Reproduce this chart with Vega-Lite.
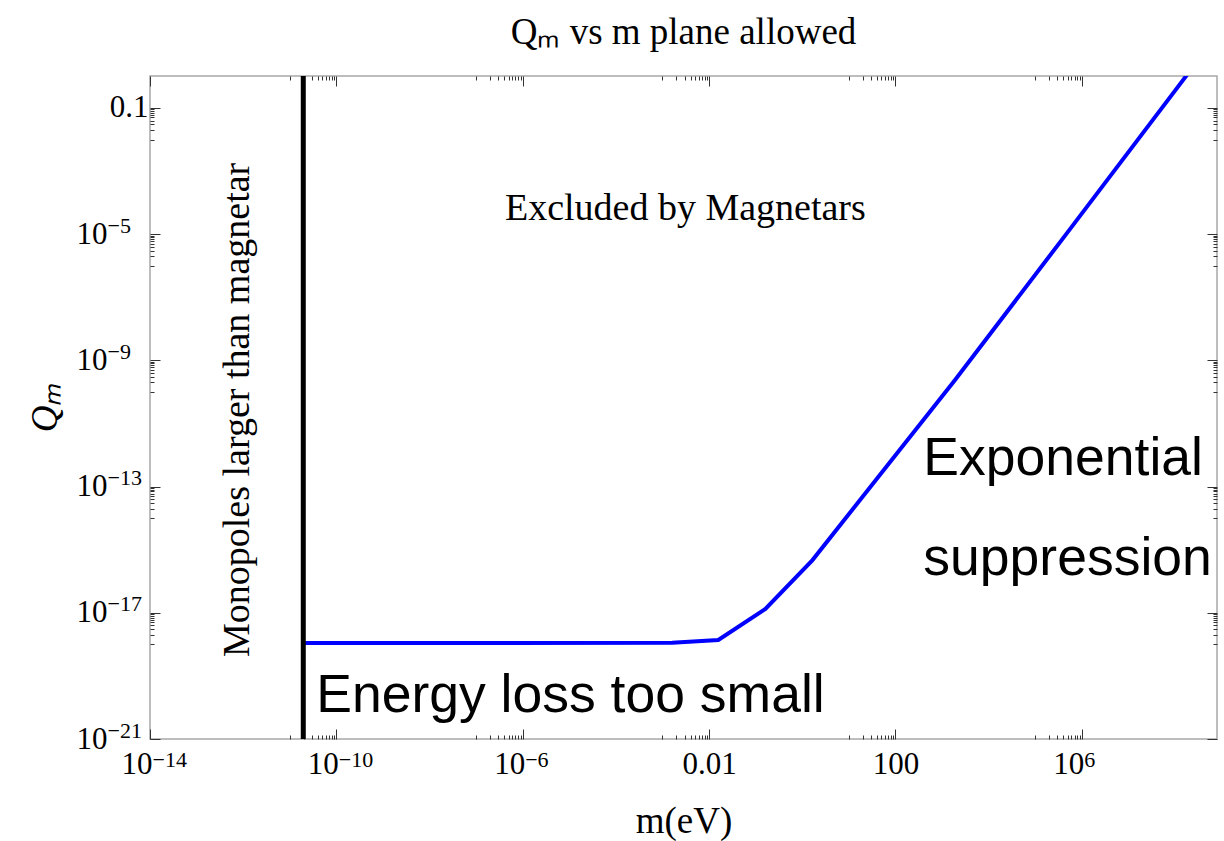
{
  "$schema": "https://vega.github.io/schema/vega-lite/v6.json",
  "width": 1067,
  "height": 663,
  "autosize": {"type": "none"},
  "padding": {"left": 150, "top": 76, "right": 7, "bottom": 102},
  "background": "white",
  "title": {"text": "Qₘ vs m plane allowed", "font": "Liberation Serif", "fontSize": 37, "fontWeight": "normal", "color": "black", "offset": 22, "anchor": "middle"},
  "config": {
    "view": {"stroke": "#a8a8a8", "strokeWidth": 1.5},
    "axis": {"domain": false, "grid": false, "tickColor": "#333", "tickWidth": 1, "labelFont": "Liberation Serif", "labelFontSize": 31, "labelColor": "black", "labelOverlap": false, "labelFlush": false, "labelBound": false, "titleFont": "Liberation Serif", "titleFontSize": 37, "titleFontWeight": "normal", "titleColor": "black"}
  },
  "datasets": {
    "curve": [
      {"m": 1.95e-11, "q": 1.1e-18},
      {"m": 1.62e-3, "q": 1.12e-18},
      {"m": 0.0158, "q": 1.38e-18},
      {"m": 0.162, "q": 1.32e-17},
      {"m": 1.66, "q": 4.68e-16},
      {"m": 1905, "q": 2.4e-10},
      {"m": 468000, "q": 1.02e-5},
      {"m": 1.82e8, "q": 1.12}
    ],
    "wall": [{"m": 1.95e-11}],
    "notesSerif": [{"m": 0.0031, "q": 2.8e-5, "label": "Excluded by Magnetars"}],
    "notesVertical": [{"m": 7.9e-13, "q": 2.7e-11, "label": "Monopoles larger than magnetar"}],
    "notesSans": [
      {"m": 3.7e-11, "q": 7.2e-21, "label": "Energy loss too small"},
      {"m": 398, "q": 2.3e-13, "label": "Exponential"},
      {"m": 398, "q": 1.6e-16, "label": "suppression"}
    ]
  },
  "layer": [
    {
      "data": {"name": "curve"},
      "mark": {"type": "line", "color": "#0000ff", "strokeWidth": 4, "clip": true},
      "encoding": {
        "x": {"field": "m", "type": "quantitative", "scale": {"type": "log", "domain": [1e-14, 8e8], "nice": false},
          "axis": {"orient": "bottom", "title": "m(eV)", "titlePadding": 18, "labelPadding": 20,
            "values": [1e-14, 1e-11, 2e-11, 3e-11, 4e-11, 5e-11, 6e-11, 7e-11, 8e-11, 9e-11, 1e-10, 1e-7, 2e-7, 3e-7, 4e-7, 5e-7, 6e-7, 7e-7, 8e-7, 9e-7, 1e-6, 0.001, 0.002, 0.003, 0.004, 0.005, 0.006, 0.007, 0.008, 0.009, 0.01, 10, 20, 30, 40, 50, 60, 70, 80, 90, 100, 100000, 200000, 300000, 400000, 500000, 600000, 700000, 800000, 900000, 1000000],
            "labelExpr": "datum.value == 1e-14 || datum.value == 1e-10 || datum.value == 1e-6 || datum.value == 1000000 ? '10' : datum.value == 0.01 ? '0.01' : datum.value == 100 ? '100' : ''",
            "labelAlign": {"condition": {"test": "datum.value == 0.01 || datum.value == 100", "value": "center"}, "value": "right"},
            "labelOffset": {"condition": {"test": "datum.value == 0.01 || datum.value == 100", "value": 0}, "value": 2},
            "tickSize": {"condition": {"test": "indexof([1e-14, 1e-10, 1e-6, 0.01, 100, 1000000], datum.value) >= 0", "value": -10}, "value": -4}}},
        "y": {"field": "q", "type": "quantitative", "scale": {"type": "log", "domain": [1e-21, 1.03], "nice": false},
          "axis": {"orient": "left", "title": "Qₘ", "titleFontStyle": "italic", "titlePadding": 45, "labelPadding": 12,
            "values": [1e-21, 1e-18, 2e-18, 3e-18, 4e-18, 5e-18, 6e-18, 7e-18, 8e-18, 9e-18, 1e-17, 1e-14, 2e-14, 3e-14, 4e-14, 5e-14, 6e-14, 7e-14, 8e-14, 9e-14, 1e-13, 1e-10, 2e-10, 3e-10, 4e-10, 5e-10, 6e-10, 7e-10, 8e-10, 9e-10, 1e-9, 1e-6, 2e-6, 3e-6, 4e-6, 5e-6, 6e-6, 7e-6, 8e-6, 9e-6, 1e-5, 0.01, 0.02, 0.03, 0.04, 0.05, 0.06, 0.07, 0.08, 0.09, 0.1],
            "labelExpr": "datum.value == 0.1 ? '0.1' : ''",
            "tickSize": {"condition": {"test": "indexof([1e-21, 1e-17, 1e-13, 1e-9, 1e-5, 0.1], datum.value) >= 0", "value": -10}, "value": -4}}}
      }
    },
    {
      "data": {"name": "wall"},
      "mark": {"type": "rule", "color": "black", "strokeWidth": 5},
      "encoding": {
        "x": {"field": "m", "type": "quantitative", "axis": null}
      }
    },
    {
      "data": {"name": "notesSerif"},
      "mark": {"type": "text", "font": "Liberation Serif", "fontSize": 38, "align": "center", "baseline": "alphabetic", "color": "black"},
      "encoding": {
        "x": {"field": "m", "type": "quantitative",
          "axis": {"orient": "top", "title": null, "labels": false,
            "values": [1e-14, 1e-11, 2e-11, 3e-11, 4e-11, 5e-11, 6e-11, 7e-11, 8e-11, 9e-11, 1e-10, 1e-7, 2e-7, 3e-7, 4e-7, 5e-7, 6e-7, 7e-7, 8e-7, 9e-7, 1e-6, 0.001, 0.002, 0.003, 0.004, 0.005, 0.006, 0.007, 0.008, 0.009, 0.01, 10, 20, 30, 40, 50, 60, 70, 80, 90, 100, 100000, 200000, 300000, 400000, 500000, 600000, 700000, 800000, 900000, 1000000],
            "tickSize": {"condition": {"test": "indexof([1e-14, 1e-10, 1e-6, 0.01, 100, 1000000], datum.value) >= 0", "value": -10}, "value": -4}}},
        "y": {"field": "q", "type": "quantitative",
          "axis": {"orient": "right", "title": null, "labels": false,
            "values": [1e-21, 1e-18, 2e-18, 3e-18, 4e-18, 5e-18, 6e-18, 7e-18, 8e-18, 9e-18, 1e-17, 1e-14, 2e-14, 3e-14, 4e-14, 5e-14, 6e-14, 7e-14, 8e-14, 9e-14, 1e-13, 1e-10, 2e-10, 3e-10, 4e-10, 5e-10, 6e-10, 7e-10, 8e-10, 9e-10, 1e-9, 1e-6, 2e-6, 3e-6, 4e-6, 5e-6, 6e-6, 7e-6, 8e-6, 9e-6, 1e-5, 0.01, 0.02, 0.03, 0.04, 0.05, 0.06, 0.07, 0.08, 0.09, 0.1],
            "tickSize": {"condition": {"test": "indexof([1e-21, 1e-17, 1e-13, 1e-9, 1e-5, 0.1], datum.value) >= 0", "value": -10}, "value": -4}}},
        "text": {"field": "label"}
      }
    },
    {
      "data": {"name": "notesVertical"},
      "mark": {"type": "text", "font": "Liberation Serif", "fontSize": 38, "align": "center", "baseline": "middle", "angle": 270, "color": "black"},
      "encoding": {
        "x": {"field": "m", "type": "quantitative",
          "axis": {"orient": "bottom", "title": null, "ticks": false, "labelPadding": 10, "labelFontSize": 22, "labelAlign": "left", "labelOffset": 2,
            "values": [1e-14, 1e-10, 1e-6, 1000000],
            "labelExpr": "datum.value == 1e-14 ? '−14' : datum.value == 1e-10 ? '−10' : datum.value == 1e-6 ? '−6' : datum.value == 1000000 ? '6' : ''"}},
        "y": {"field": "q", "type": "quantitative",
          "axis": {"orient": "left", "title": null, "ticks": false, "labelPadding": 74, "labelAlign": "left",
            "values": [1e-21, 1e-17, 1e-13, 1e-9, 1e-5],
            "labelExpr": "'10'"}},
        "text": {"field": "label"}
      }
    },
    {
      "data": {"name": "notesSans"},
      "mark": {"type": "text", "font": "Liberation Sans", "fontSize": 53.5, "align": "left", "baseline": "alphabetic", "color": "black"},
      "encoding": {
        "x": {"field": "m", "type": "quantitative", "axis": null},
        "y": {"field": "q", "type": "quantitative",
          "axis": {"orient": "left", "title": null, "ticks": false, "labelPadding": 43, "labelAlign": "left", "labelFontSize": 22, "labelOffset": -9,
            "values": [1e-21, 1e-17, 1e-13, 1e-9, 1e-5],
            "labelExpr": "datum.value == 1e-21 ? '−21' : datum.value == 1e-17 ? '−17' : datum.value == 1e-13 ? '−13' : datum.value == 1e-9 ? '−9' : '−5'"}},
        "text": {"field": "label"}
      }
    }
  ],
  "resolve": {"axis": {"x": "independent", "y": "independent"}}
}
